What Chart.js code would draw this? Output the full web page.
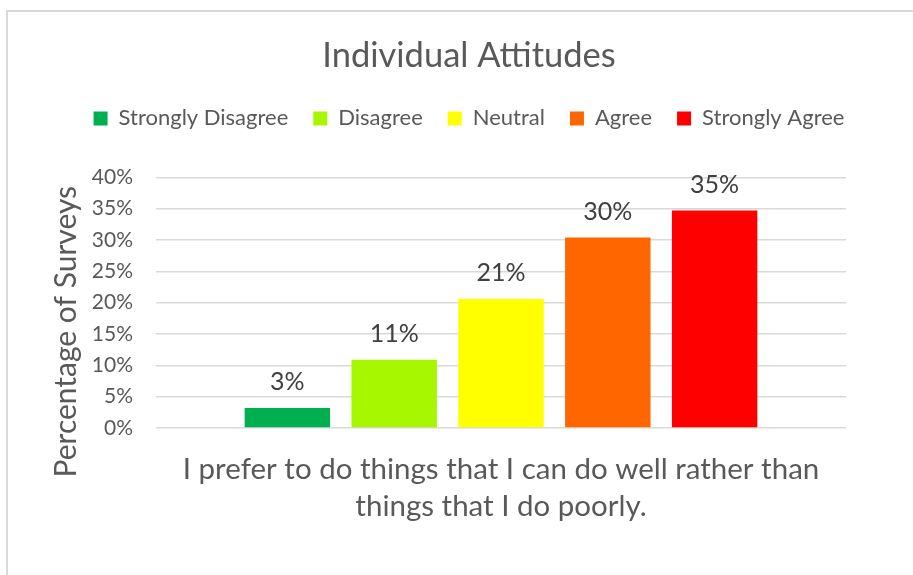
<!DOCTYPE html>
<html>
<head>
<meta charset="utf-8">
<script src="https://cdn.jsdelivr.net/npm/chart.js@4.4.1/dist/chart.umd.min.js"></script>
<style>
    body { margin: 0; background: #fff; }
    #moldura {
        position: absolute; left: 6px; top: 10px; width: 920px; height: 580px;
        border: 2px solid #d9d9d9; box-sizing: border-box;
    }
    #caixa { position: absolute; left: 0; top: 0; width: 913px; height: 575px; }
</style>
</head>
<body>
<div id="moldura"></div>
<div id="caixa"><canvas id="graficoAtitudes"></canvas></div>
<script>
// dados
const categorias = [["I prefer to do things that I can do well rather than", "things that I do poorly."]];
const respostas = ["Strongly Disagree", "Disagree", "Neutral", "Agree", "Strongly Agree"];
const percentuais = [3.2, 10.9, 20.6, 30.4, 34.7];
const rotulosBarras = ["3%", "11%", "21%", "30%", "35%"];
const ticksY = [0, 5, 10, 15, 20, 25, 30, 35, 40];
const cores = ["#00b050", "#a6f700", "#ffff00", "#ff6600", "#ff0000"];
const tituloEixoY = "Percentage of Surveys";

const fonte = "Lato, 'Open Sans', sans-serif";

// escreve o valor em cima de cada barra e o titulo do eixo Y
const rotulosPlugin = {
    id: "rotulos",
    beforeInit(chart) {
        // legenda numa linha so + espaco extra antes da area do grafico
        const legenda = chart.legend;
        const fitOriginal = legenda.fit;
        legenda.fit = function () {
            this.maxWidth = 2000;
            fitOriginal.call(this);
            this.height += 38;
        };
        const drawOriginal = legenda.draw;
        legenda.draw = function () {
            const l = this.left, r = this.right;
            this.left = l - 500;
            this.right = r + 500;
            drawOriginal.call(this);
            this.left = l;
            this.right = r;
        };
    },
    afterDatasetsDraw(chart) {
        const ctx = chart.ctx;
        ctx.save();
        ctx.font = "25px " + fonte;
        ctx.fillStyle = "#404040";
        ctx.textAlign = "center";
        ctx.textBaseline = "alphabetic";
        chart.data.datasets.forEach((ds, i) => {
            const meta = chart.getDatasetMeta(i);
            meta.data.forEach(barra => {
                ctx.fillText(rotulosBarras[i], barra.x, barra.y - 18);
            });
        });
        ctx.restore();
    },
    afterDraw(chart) {
        const ctx = chart.ctx;
        const area = chart.chartArea;
        ctx.save();
        ctx.translate(66, (area.top + area.bottom) / 2 + 29);
        ctx.rotate(-Math.PI / 2);
        ctx.font = "30px " + fonte;
        ctx.fillStyle = "#595959";
        ctx.textAlign = "center";
        ctx.textBaseline = "middle";
        ctx.fillText(tituloEixoY, 0, 0);
        ctx.restore();
    }
};

const ctx = document.getElementById("graficoAtitudes").getContext("2d");

window.grafico = new Chart(ctx, {
    type: "bar",
    data: {
        labels: categorias,
        datasets: respostas.map((nome, i) => ({
            label: nome,
            data: [percentuais[i]],
            backgroundColor: cores[i],
            borderWidth: 0,
            categoryPercentage: 0.774,
            barPercentage: 0.8
        }))
    },
    options: {
        responsive: true,
        maintainAspectRatio: false,
        animation: false,
        layout: { padding: { top: 22, left: 92, right: 67, bottom: 49 } },
        plugins: {
            title: {
                display: true,
                text: "Individual Attitudes",
                color: "#595959",
                font: { family: fonte, size: 34.5, weight: "normal" },
                padding: { top: 13, bottom: 6 }
            },
            legend: {
                position: "top",
                labels: {
                    color: "#595959",
                    font: { family: fonte, size: 22 },
                    boxWidth: 14,
                    boxHeight: 14,
                    padding: 25
                }
            },
            tooltip: { enabled: false }
        },
        scales: {
            x: {
                grid: { display: false, drawTicks: false },
                border: { display: false },
                afterFit: eixo => {
                    eixo.paddingLeft = 0;
                    eixo.paddingRight = 0;
                    eixo.height = 98;
                },
                ticks: {
                    color: "#595959",
                    font: { family: fonte, size: 29.5, lineHeight: 1.26 },
                    padding: 23,
                    maxRotation: 0
                }
            },
            y: {
                min: 0,
                max: 40,
                afterBuildTicks: eixo => { eixo.ticks = ticksY.map(v => ({ value: v })); },
                afterFit: eixo => { eixo.width = 64; },
                grid: { color: "#d9d9d9", lineWidth: 1.5, drawTicks: false },
                border: { display: false },
                ticks: {
                    color: "#595959",
                    font: { family: fonte, size: 21 },
                    padding: 23,
                    autoSkip: false,
                    callback: v => v + "%"
                }
            }
        }
    },
    plugins: [rotulosPlugin]
});
</script>
</body>
</html>
